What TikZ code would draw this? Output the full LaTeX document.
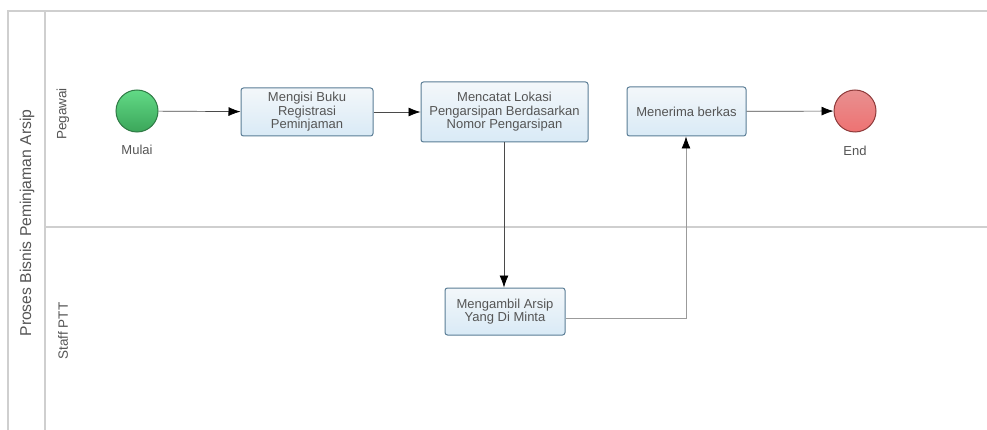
\documentclass[tikz,border=0pt]{standalone}
\usepackage{fontspec}
\setmainfont{Liberation Sans}
\usetikzlibrary{arrows.meta,shadings}
\definecolor{poolline}{HTML}{CFCFCF}
\definecolor{txt}{HTML}{555555}
\definecolor{taskborder}{HTML}{5A7D96}
\definecolor{tasktop}{HTML}{F3F7FA}
\definecolor{taskbot}{HTML}{D9EAF6}
\definecolor{starttop}{HTML}{62DA86}
\definecolor{startbot}{HTML}{3BA65A}
\definecolor{startborder}{HTML}{2F7A45}
\definecolor{endtop}{HTML}{E89090}
\definecolor{endbot}{HTML}{EE7272}
\definecolor{endborder}{HTML}{8E3A3A}
\definecolor{flow}{HTML}{4A4A4A}
\begin{document}
\begin{tikzpicture}[x=1pt,y=-1pt,
  lane/.style={draw=poolline,line width=1.6pt},
  task/.style={draw=taskborder,line width=1pt,rounded corners=2.5pt,
    top color=tasktop,bottom color=taskbot,align=center,text=txt,
    font=\fontsize{13}{13.4}\selectfont,inner sep=0pt},
  event/.style={circle,minimum size=42pt,inner sep=0pt,line width=1pt},
  lbl/.style={text=txt,font=\fontsize{13}{14}\selectfont},
  lanelbl/.style={text=txt,rotate=90,font=\fontsize{13.5}{15}\selectfont},
  flowline/.style={draw=flow,line width=0.7pt,-{Latex[length=12pt,width=9pt,color=black]}},
]
\useasboundingbox (0,0) rectangle (987,430);
\fill[white] (0,0) rectangle (987,430);

% pool and lanes
\draw[lane] (987,11) -- (8,11) -- (8,430);
\draw[lane] (45,11) -- (45,430);
\draw[lane] (45,227) -- (987,227);
\node[lanelbl,font=\fontsize{15.7}{17}\selectfont] (pool) at (27,223) {Proses Bisnis Peminjaman Arsip};
\node[lanelbl] (lane1) at (63,114) {Pegawai};
\node[lanelbl] (lane2) at (63,331) {Staff PTT};

% events
\node[event,draw=startborder,top color=starttop,bottom color=startbot] (start) at (137,111) {};
\node[lbl] (startlbl) at (137,150) {Mulai};
\node[event,draw=endborder,top color=endtop,bottom color=endbot] (end) at (855,111) {};
\node[lbl] (endlbl) at (855,151) {End};

% tasks
\node[task,minimum width=132pt,minimum height=48pt] (t1) at (307,112)
  {Mengisi Buku\\Registrasi\\Peminjaman};
\node[task,minimum width=167pt,minimum height=60pt] (t2) at (504.5,112)
  {Mencatat Lokasi\\Pengarsipan Berdasarkan\\Nomor Pengarsipan};
\node[task,minimum width=119pt,minimum height=49pt] (t3) at (686.5,111.5)
  {Menerima berkas};
\node[task,minimum width=120pt,minimum height=47pt] (t4) at (505,311.5)
  {Mengambil Arsip\\Yang Di Minta};

% sequence flows
\draw[flowline] (start) -- (t1);
\draw[flowline] (t1) -- (t2);
\draw[flowline] (t2.south -| 504,0) -- (t4.north -| 504,0);
\coordinate (bend) at (686,318);
\draw[flowline,draw=flow!55] (t4.east |- bend) -- (bend) -- (t3.south -| bend);
\draw[flowline] (t3) -- (end);
\end{tikzpicture}
\end{document}
